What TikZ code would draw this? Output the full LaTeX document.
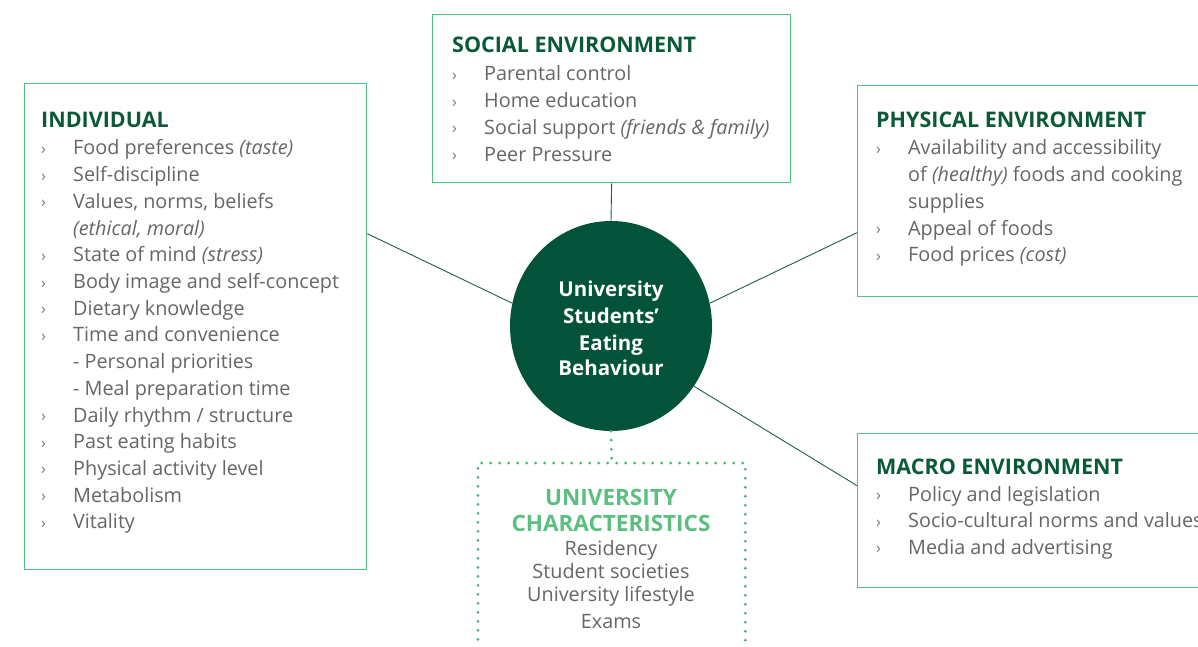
\documentclass[tikz,border=0pt]{standalone}
\usepackage{fontspec}
\setmainfont{Open Sans}
\usetikzlibrary{shapes.geometric}
\definecolor{dkgreen}{HTML}{0A5A38}
\definecolor{circfill}{HTML}{03533A}
\definecolor{boxgreen}{HTML}{4DC082}
\definecolor{lgreen}{HTML}{5CBF80}
\definecolor{dotgreen}{HTML}{3DB56C}
\definecolor{txtgray}{HTML}{666666}
\definecolor{bulgray}{HTML}{7A7A7A}
\definecolor{linegreen}{HTML}{1E5E44}
\newcommand\bodyfont{\fontsize{19.8}{26.7}\selectfont}
\newcommand\titlefont{\fontsize{21.5}{26.7}\selectfont\bfseries}
\newcommand\utitlefont{\fontsize{22.5}{26.7}\selectfont\bfseries}
\newcommand\circfont{\fontsize{20.5}{26.7}\selectfont\bfseries}
\newcommand\bu{\makebox[32pt][l]{\raisebox{0.5pt}{\fontsize{16}{16}\selectfont\color{bulgray}›}}}
\begin{document}
\begin{tikzpicture}[x=1pt,y=-1pt,
  box/.style={draw=boxgreen, line width=1.3pt, rectangle, inner sep=0, anchor=north west},
  ttl/.style={anchor=base west, inner sep=0, font=\titlefont, text=dkgreen},
  ln/.style={anchor=base west, inner sep=0, font=\bodyfont, text=txtgray},
  uttl/.style={anchor=base, inner sep=0, font=\utitlefont, text=lgreen},
  uln/.style={anchor=base, inner sep=0, font=\bodyfont, text=txtgray},
  ctext/.style={anchor=base, inner sep=0, font=\circfont, text=white},
  conn/.style={draw=linegreen, line width=0.9pt},
  dotconn/.style={draw=dotgreen, line width=3pt, line cap=round, dash pattern=on 0pt off 9pt}]
\useasboundingbox (0,0) rectangle (1198,647);
\clip (0,0) rectangle (1198,647);
\fill[white] (0,0) rectangle (1198,647);

% boxes
\node[box, minimum width=342pt, minimum height=486pt] (ind) at (24,83) {};
\node[box, minimum width=358pt, minimum height=168pt] (soc) at (432,14) {};
\node[box, minimum width=420pt, minimum height=211pt] (phy) at (857,85) {};
\node[box, minimum width=420pt, minimum height=154pt] (mac) at (857,433) {};
\node[rectangle, inner sep=0, anchor=north west, minimum width=267pt, minimum height=230pt] (uni) at (478,463) {};
\draw[dotconn] (uni.south west) -- (uni.north west) -- (uni.north east) -- (uni.south east);

% centre
\node[ellipse, fill=circfill, minimum width=202pt, minimum height=210pt, inner sep=0] (circ) at (611,326) {};
\node[ctext] (c1) at (611,296.7) {University};
\node[ctext] (c2) at (611,323.3) {Students’};
\node[ctext] (c3) at (611,350) {Eating};
\node[ctext] (c4) at (611,375) {Behaviour};

% connectors
\draw[conn] ([yshift=93pt]ind.east) -- (circ.167);
\draw[conn] ([yshift=-41.5pt]phy.west) -- (circ.13);
\draw[conn] ([yshift=25pt]mac.west) -- (circ.-36);
\draw[conn] (soc.south) -- (circ.north);
\draw[dotconn] (circ.south) -- (uni.north);

% individual
\node[ttl] (it) at (41,128) {INDIVIDUAL};
\node[ln] (i1) at (41,155) {\bu Food preferences \textit{(taste)}};
\node[ln] (i2) at (41,181.7) {\bu Self-discipline};
\node[ln] (i3) at (41,208.4) {\bu Values, norms, beliefs};
\node[ln] (i4) at (73,235.1) {\textit{(ethical, moral)}};
\node[ln] (i5) at (41,261.8) {\bu State of mind \textit{(stress)}};
\node[ln] (i6) at (41,288.5) {\bu Body image and self-concept};
\node[ln] (i7) at (41,315.2) {\bu Dietary knowledge};
\node[ln] (i8) at (41,341.9) {\bu Time and convenience};
\node[ln] (i9) at (73,368.6) {- Personal priorities};
\node[ln] (i10) at (73,395.3) {- Meal preparation time};
\node[ln] (i11) at (41,422) {\bu Daily rhythm / structure};
\node[ln] (i12) at (41,448.7) {\bu Past eating habits};
\node[ln] (i13) at (41,475.4) {\bu Physical activity level};
\node[ln] (i14) at (41,502.1) {\bu Metabolism};
\node[ln] (i15) at (41,528.8) {\bu Vitality};

% social
\node[ttl] (st) at (452,53) {SOCIAL ENVIRONMENT};
\node[ln] (s1) at (452,81) {\bu Parental control};
\node[ln] (s2) at (452,107.7) {\bu Home education};
\node[ln] (s3) at (452,134.4) {\bu Social support \textit{(friends \& family)}};
\node[ln] (s4) at (452,161.1) {\bu Peer Pressure};

% physical
\node[ttl] (pt) at (876,127.7) {PHYSICAL ENVIRONMENT};
\node[ln] (p1) at (876,155) {\bu Availability and accessibility};
\node[ln] (p2) at (908,181.7) {of \textit{(healthy)} foods and cooking};
\node[ln] (p3) at (908,208.4) {supplies};
\node[ln] (p4) at (876,235.1) {\bu Appeal of foods};
\node[ln] (p5) at (876,261.8) {\bu Food prices \textit{(cost)}};

% macro
\node[ttl] (mt) at (876,474) {MACRO ENVIRONMENT};
\node[ln] (m1) at (876,501) {\bu Policy and legislation};
\node[ln] (m2) at (876,527.7) {\bu Socio-cultural norms and values};
\node[ln] (m3) at (876,554.4) {\bu Media and advertising};

% university
\node[uttl] (ut1) at (611,505) {UNIVERSITY};
\node[uttl] (ut2) at (611,531.7) {CHARACTERISTICS};
\node[uln] (u1) at (611,555) {Residency};
\node[uln] (u2) at (611,578) {Student societies};
\node[uln] (u3) at (611,601.7) {University lifestyle};
\node[uln] (u4) at (611,628) {Exams};
\end{tikzpicture}
\end{document}
